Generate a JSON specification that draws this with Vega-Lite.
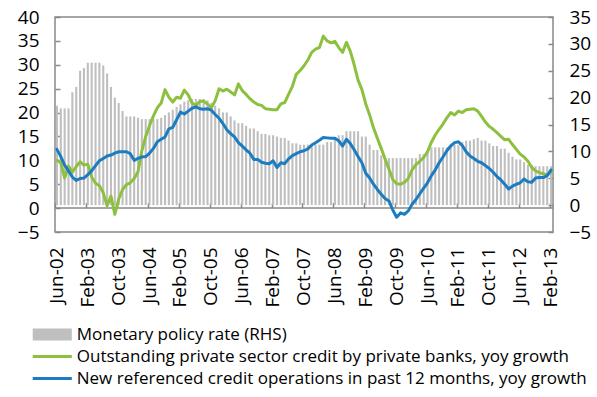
{
  "$schema": "https://vega.github.io/schema/vega-lite/v6.json",
  "width": 498,
  "height": 215,
  "autosize": {"type": "none"},
  "padding": {"left": 55, "top": 17, "right": 44, "bottom": 165},
  "background": "white",
  "config": {
    "view": {"stroke": "#888888", "strokeWidth": 1.5},
    "font": "Open Sans",
    "axis": {"grid": false, "labelFont": "Open Sans", "labelFontSize": 19, "labelColor": "#000000", "title": null, "labelOverlap": false}
  },
  "data": {"values": [
    {"m": "Jun-02", "rate": 18.5, "credit": 10.0, "newops": 12.3},
    {"m": "Jul-02", "rate": 18, "credit": 9.5, "newops": 10.8},
    {"m": "Aug-02", "rate": 18, "credit": 6.3, "newops": 9.0},
    {"m": "Sep-02", "rate": 18, "credit": 8.8, "newops": 7.8},
    {"m": "Oct-02", "rate": 21, "credit": 7.5, "newops": 6.5},
    {"m": "Nov-02", "rate": 22, "credit": 8.7, "newops": 5.8},
    {"m": "Dec-02", "rate": 25, "credit": 9.7, "newops": 6.2},
    {"m": "Jan-03", "rate": 25.5, "credit": 9.0, "newops": 6.3},
    {"m": "Feb-03", "rate": 26.5, "credit": 9.2, "newops": 7.0},
    {"m": "Mar-03", "rate": 26.5, "credit": 6.5, "newops": 7.8},
    {"m": "Apr-03", "rate": 26.5, "credit": 5.2, "newops": 8.9},
    {"m": "May-03", "rate": 26.5, "credit": 4.7, "newops": 9.9},
    {"m": "Jun-03", "rate": 26, "credit": 3.2, "newops": 10.4},
    {"m": "Jul-03", "rate": 24.5, "credit": 0.5, "newops": 10.9},
    {"m": "Aug-03", "rate": 22, "credit": 2.5, "newops": 11.1},
    {"m": "Sep-03", "rate": 20, "credit": -1.3, "newops": 11.5},
    {"m": "Oct-03", "rate": 19, "credit": 1.9, "newops": 11.8},
    {"m": "Nov-03", "rate": 17.5, "credit": 3.9, "newops": 11.8},
    {"m": "Dec-03", "rate": 16.5, "credit": 4.9, "newops": 11.8},
    {"m": "Jan-04", "rate": 16.5, "credit": 5.3, "newops": 11.4},
    {"m": "Feb-04", "rate": 16.5, "credit": 6.2, "newops": 10.0},
    {"m": "Mar-04", "rate": 16.25, "credit": 7.6, "newops": 10.4},
    {"m": "Apr-04", "rate": 16, "credit": 12.0, "newops": 10.7},
    {"m": "May-04", "rate": 16, "credit": 15.0, "newops": 10.8},
    {"m": "Jun-04", "rate": 16, "credit": 17.3, "newops": 11.5},
    {"m": "Jul-04", "rate": 16, "credit": 19.3, "newops": 12.5},
    {"m": "Aug-04", "rate": 16, "credit": 21.0, "newops": 13.9},
    {"m": "Sep-04", "rate": 16.25, "credit": 22.0, "newops": 14.4},
    {"m": "Oct-04", "rate": 16.75, "credit": 24.8, "newops": 14.9},
    {"m": "Nov-04", "rate": 17.25, "credit": 23.2, "newops": 16.6},
    {"m": "Dec-04", "rate": 17.75, "credit": 22.2, "newops": 16.9},
    {"m": "Jan-05", "rate": 18.25, "credit": 23.2, "newops": 18.5},
    {"m": "Feb-05", "rate": 18.75, "credit": 23.0, "newops": 20.1},
    {"m": "Mar-05", "rate": 19.25, "credit": 24.7, "newops": 19.7},
    {"m": "Apr-05", "rate": 19.5, "credit": 23.7, "newops": 20.3},
    {"m": "May-05", "rate": 19.75, "credit": 22.0, "newops": 20.9},
    {"m": "Jun-05", "rate": 19.75, "credit": 21.5, "newops": 21.2},
    {"m": "Jul-05", "rate": 19.75, "credit": 22.3, "newops": 20.8},
    {"m": "Aug-05", "rate": 19.75, "credit": 22.4, "newops": 20.7},
    {"m": "Sep-05", "rate": 19.5, "credit": 21.8, "newops": 20.8},
    {"m": "Oct-05", "rate": 19, "credit": 21.0, "newops": 20.5},
    {"m": "Nov-05", "rate": 18.5, "credit": 22.5, "newops": 19.6},
    {"m": "Dec-05", "rate": 18, "credit": 25.0, "newops": 18.8},
    {"m": "Jan-06", "rate": 17.25, "credit": 24.5, "newops": 17.7},
    {"m": "Feb-06", "rate": 17.25, "credit": 24.9, "newops": 16.4},
    {"m": "Mar-06", "rate": 16.5, "credit": 24.3, "newops": 15.6},
    {"m": "Apr-06", "rate": 15.75, "credit": 23.7, "newops": 14.9},
    {"m": "May-06", "rate": 15.25, "credit": 26.0, "newops": 13.7},
    {"m": "Jun-06", "rate": 15.25, "credit": 24.6, "newops": 13.0},
    {"m": "Jul-06", "rate": 14.75, "credit": 23.8, "newops": 12.2},
    {"m": "Aug-06", "rate": 14.25, "credit": 22.9, "newops": 11.5},
    {"m": "Sep-06", "rate": 14.25, "credit": 22.2, "newops": 10.2},
    {"m": "Oct-06", "rate": 13.75, "credit": 21.7, "newops": 10.2},
    {"m": "Nov-06", "rate": 13.25, "credit": 21.5, "newops": 9.6},
    {"m": "Dec-06", "rate": 13.25, "credit": 20.8, "newops": 9.4},
    {"m": "Jan-07", "rate": 13, "credit": 20.7, "newops": 9.3},
    {"m": "Feb-07", "rate": 13, "credit": 20.6, "newops": 9.9},
    {"m": "Mar-07", "rate": 12.75, "credit": 20.6, "newops": 8.5},
    {"m": "Apr-07", "rate": 12.5, "credit": 21.8, "newops": 9.5},
    {"m": "May-07", "rate": 12.5, "credit": 22.1, "newops": 9.3},
    {"m": "Jun-07", "rate": 12, "credit": 23.8, "newops": 10.3},
    {"m": "Jul-07", "rate": 11.5, "credit": 25.5, "newops": 11.0},
    {"m": "Aug-07", "rate": 11.5, "credit": 28.0, "newops": 11.4},
    {"m": "Sep-07", "rate": 11.25, "credit": 28.8, "newops": 11.8},
    {"m": "Oct-07", "rate": 11.25, "credit": 29.8, "newops": 12.0},
    {"m": "Nov-07", "rate": 11.25, "credit": 31.0, "newops": 12.4},
    {"m": "Dec-07", "rate": 11.25, "credit": 32.6, "newops": 13.2},
    {"m": "Jan-08", "rate": 11.25, "credit": 33.3, "newops": 13.7},
    {"m": "Feb-08", "rate": 11.25, "credit": 33.6, "newops": 14.2},
    {"m": "Mar-08", "rate": 11.25, "credit": 36.0, "newops": 14.8},
    {"m": "Apr-08", "rate": 11.75, "credit": 35.0, "newops": 14.7},
    {"m": "May-08", "rate": 11.75, "credit": 34.6, "newops": 14.6},
    {"m": "Jun-08", "rate": 12.25, "credit": 34.9, "newops": 14.6},
    {"m": "Jul-08", "rate": 13, "credit": 33.6, "newops": 14.1},
    {"m": "Aug-08", "rate": 13, "credit": 32.6, "newops": 13.0},
    {"m": "Sep-08", "rate": 13.75, "credit": 34.7, "newops": 14.4},
    {"m": "Oct-08", "rate": 13.75, "credit": 32.8, "newops": 13.5},
    {"m": "Nov-08", "rate": 13.75, "credit": 30.0, "newops": 12.2},
    {"m": "Dec-08", "rate": 13.75, "credit": 26.8, "newops": 10.8},
    {"m": "Jan-09", "rate": 12.75, "credit": 24.8, "newops": 9.5},
    {"m": "Feb-09", "rate": 12.75, "credit": 21.8, "newops": 7.3},
    {"m": "Mar-09", "rate": 11.25, "credit": 19.5, "newops": 6.3},
    {"m": "Apr-09", "rate": 10.25, "credit": 16.8, "newops": 5.0},
    {"m": "May-09", "rate": 10.25, "credit": 14.6, "newops": 3.9},
    {"m": "Jun-09", "rate": 9.25, "credit": 12.5, "newops": 2.9},
    {"m": "Jul-09", "rate": 8.75, "credit": 10.3, "newops": 2.0},
    {"m": "Aug-09", "rate": 8.75, "credit": 8.2, "newops": 1.5},
    {"m": "Sep-09", "rate": 8.75, "credit": 6.0, "newops": -0.4},
    {"m": "Oct-09", "rate": 8.75, "credit": 5.1, "newops": -1.9},
    {"m": "Nov-09", "rate": 8.75, "credit": 5.0, "newops": -1.0},
    {"m": "Dec-09", "rate": 8.75, "credit": 5.4, "newops": -1.3},
    {"m": "Jan-10", "rate": 8.75, "credit": 6.2, "newops": -0.6},
    {"m": "Feb-10", "rate": 8.75, "credit": 8.0, "newops": 0.8},
    {"m": "Mar-10", "rate": 8.75, "credit": 9.1, "newops": 1.8},
    {"m": "Apr-10", "rate": 9.5, "credit": 9.8, "newops": 3.0},
    {"m": "May-10", "rate": 9.5, "credit": 10.6, "newops": 4.2},
    {"m": "Jun-10", "rate": 10.25, "credit": 11.8, "newops": 5.3},
    {"m": "Jul-10", "rate": 10.75, "credit": 13.8, "newops": 6.8},
    {"m": "Aug-10", "rate": 10.75, "credit": 15.3, "newops": 8.0},
    {"m": "Sep-10", "rate": 10.75, "credit": 16.5, "newops": 9.5},
    {"m": "Oct-10", "rate": 10.75, "credit": 17.6, "newops": 10.7},
    {"m": "Nov-10", "rate": 10.75, "credit": 18.9, "newops": 12.0},
    {"m": "Dec-10", "rate": 10.75, "credit": 20.0, "newops": 13.0},
    {"m": "Jan-11", "rate": 11.25, "credit": 19.5, "newops": 13.7},
    {"m": "Feb-11", "rate": 11.25, "credit": 20.3, "newops": 13.9},
    {"m": "Mar-11", "rate": 11.75, "credit": 20.0, "newops": 13.1},
    {"m": "Apr-11", "rate": 12, "credit": 20.6, "newops": 11.8},
    {"m": "May-11", "rate": 12, "credit": 20.7, "newops": 10.9},
    {"m": "Jun-11", "rate": 12.25, "credit": 20.8, "newops": 10.4},
    {"m": "Jul-11", "rate": 12.5, "credit": 20.3, "newops": 9.8},
    {"m": "Aug-11", "rate": 12, "credit": 19.2, "newops": 9.5},
    {"m": "Sep-11", "rate": 12, "credit": 18.0, "newops": 8.9},
    {"m": "Oct-11", "rate": 11.5, "credit": 17.1, "newops": 8.3},
    {"m": "Nov-11", "rate": 11, "credit": 16.5, "newops": 7.5},
    {"m": "Dec-11", "rate": 11, "credit": 15.8, "newops": 6.6},
    {"m": "Jan-12", "rate": 10.5, "credit": 15.0, "newops": 5.9},
    {"m": "Feb-12", "rate": 10.5, "credit": 14.3, "newops": 5.0},
    {"m": "Mar-12", "rate": 9.75, "credit": 14.4, "newops": 4.0},
    {"m": "Apr-12", "rate": 9, "credit": 13.3, "newops": 4.6},
    {"m": "May-12", "rate": 8.5, "credit": 12.3, "newops": 5.0},
    {"m": "Jun-12", "rate": 8.5, "credit": 11.3, "newops": 5.3},
    {"m": "Jul-12", "rate": 8, "credit": 10.7, "newops": 6.1},
    {"m": "Aug-12", "rate": 7.5, "credit": 9.8, "newops": 5.5},
    {"m": "Sep-12", "rate": 7.5, "credit": 8.5, "newops": 5.4},
    {"m": "Oct-12", "rate": 7.25, "credit": 7.8, "newops": 6.3},
    {"m": "Nov-12", "rate": 7.25, "credit": 7.4, "newops": 6.4},
    {"m": "Dec-12", "rate": 7.25, "credit": 7.2, "newops": 6.4},
    {"m": "Jan-13", "rate": 7.25, "credit": 6.9, "newops": 6.8},
    {"m": "Feb-13", "rate": 7.25, "credit": 7.6, "newops": 8.0}
  ]},
  "layer": [
    {
      "mark": {"type": "bar"},
      "encoding": {
        "x": {
          "field": "m", "type": "ordinal", "sort": null,
          "scale": {"type": "band", "paddingInner": 0.45, "paddingOuter": 0.225},
          "axis": {
            "orient": "bottom",
            "values": ["Jun-02","Feb-03","Oct-03","Jun-04","Feb-05","Oct-05","Jun-06","Feb-07","Oct-07","Jun-08","Feb-09","Oct-09","Jun-10","Feb-11","Oct-11","Jun-12","Feb-13"],
            "labelAngle": 270, "ticks": false, "domain": false, "labelPadding": 15, "labelOverlap": false, "title": null
          }
        },
        "y": {
          "field": "rate", "type": "quantitative",
          "scale": {"domain": [-5, 35], "nice": false, "zero": false},
          "axis": {"orient": "right", "values": [-5,0,5,10,15,20,25,30,35], "domain": false, "tickSize": -5, "tickColor": "#888888", "tickWidth": 1.5, "labelPadding": 21, "labelOverlap": false, "title": null}
        },
        "color": {
          "datum": "Monetary policy rate (RHS)", "type": "nominal",
          "scale": {
            "domain": ["Monetary policy rate (RHS)", "Outstanding private sector credit by private banks, yoy growth", "New referenced credit operations in past 12 months, yoy growth"],
            "range": ["#BFBFBF", "#8DC03F", "#1B7CC2"]
          },
          "legend": {
            "orient": "none", "legendX": -11.25, "legendY": 309, "direction": "vertical", "title": null,
            "symbolType": "M-2.3,0H2.3", "symbolSize": 289, "symbolStrokeWidth": 3, "rowPadding": 4,
            "labelFont": "Open Sans", "labelFontSize": 17, "labelColor": "#000000", "labelOffset": 16, "labelLimit": 700, "padding": 0,
            "encode": {"symbols": {"update": {
              "shape": {"signal": "datum.value === 'Monetary policy rate (RHS)' ? 'M-2.3,-0.7H2.3V0.7H-2.3Z' : 'M-2.3,0H2.3'"},
              "strokeWidth": {"signal": "datum.value === 'Monetary policy rate (RHS)' ? 0 : 3"},
              "stroke": {"signal": "datum.value === 'Monetary policy rate (RHS)' ? 'transparent' : scale('color', datum.value)"},
              "fill": {"signal": "datum.value === 'Monetary policy rate (RHS)' ? '#BFBFBF' : 'transparent'"},
              "strokeCap": {"value": "butt"},
              "strokeJoin": {"value": "round"},
              "opacity": {"value": 1}
            }}}
          }
        }
      }
    },
    {
      "layer": [
        {
          "mark": {"type": "line", "strokeWidth": 3, "strokeJoin": "round", "strokeCap": "round"},
          "encoding": {
            "x": {
              "field": "m", "type": "ordinal", "sort": null,
              "axis": {
                "orient": "top", "offset": -190.6, "labels": false, "domain": true, "domainColor": "#888888", "domainWidth": 1.5,
                "ticks": true, "tickSize": 5, "tickColor": "#888888", "tickWidth": 1.5, "bandPosition": 0,
                "values": ["Jun-02","Feb-03","Oct-03","Jun-04","Feb-05","Oct-05","Jun-06","Feb-07","Oct-07","Jun-08","Feb-09","Oct-09","Jun-10","Feb-11","Oct-11","Jun-12","Feb-13"],
                "title": null
              }
            },
            "y": {
              "field": "credit", "type": "quantitative",
              "scale": {"domain": [-5, 40], "nice": false, "zero": false},
              "axis": {"orient": "left", "values": [-5,0,5,10,15,20,25,30,35,40], "domain": false, "tickSize": -5, "tickColor": "#888888", "tickWidth": 1.5, "labelPadding": 21, "labelOverlap": false, "title": null}
            },
            "color": {"datum": "Outstanding private sector credit by private banks, yoy growth", "type": "nominal"}
          }
        },
        {
          "mark": {"type": "line", "strokeWidth": 3, "strokeJoin": "round", "strokeCap": "round"},
          "encoding": {
            "x": {
              "field": "m", "type": "ordinal", "sort": null,
              "axis": {
                "orient": "top", "offset": -190.6, "labels": false, "domain": true, "domainColor": "#888888", "domainWidth": 1.5,
                "ticks": true, "tickSize": 5, "tickColor": "#888888", "tickWidth": 1.5, "bandPosition": 0,
                "values": ["Jun-02","Feb-03","Oct-03","Jun-04","Feb-05","Oct-05","Jun-06","Feb-07","Oct-07","Jun-08","Feb-09","Oct-09","Jun-10","Feb-11","Oct-11","Jun-12","Feb-13"],
                "title": null
              }
            },
            "y": {
              "field": "newops", "type": "quantitative",
              "axis": {"orient": "left", "values": [-5,0,5,10,15,20,25,30,35,40], "domain": false, "tickSize": -5, "tickColor": "#888888", "tickWidth": 1.5, "labelPadding": 21, "labelOverlap": false, "title": null}
            },
            "color": {"datum": "New referenced credit operations in past 12 months, yoy growth", "type": "nominal"}
          }
        }
      ]
    }
  ],
  "resolve": {"scale": {"y": "independent"}, "axis": {"x": "independent", "y": "independent"}}
}
